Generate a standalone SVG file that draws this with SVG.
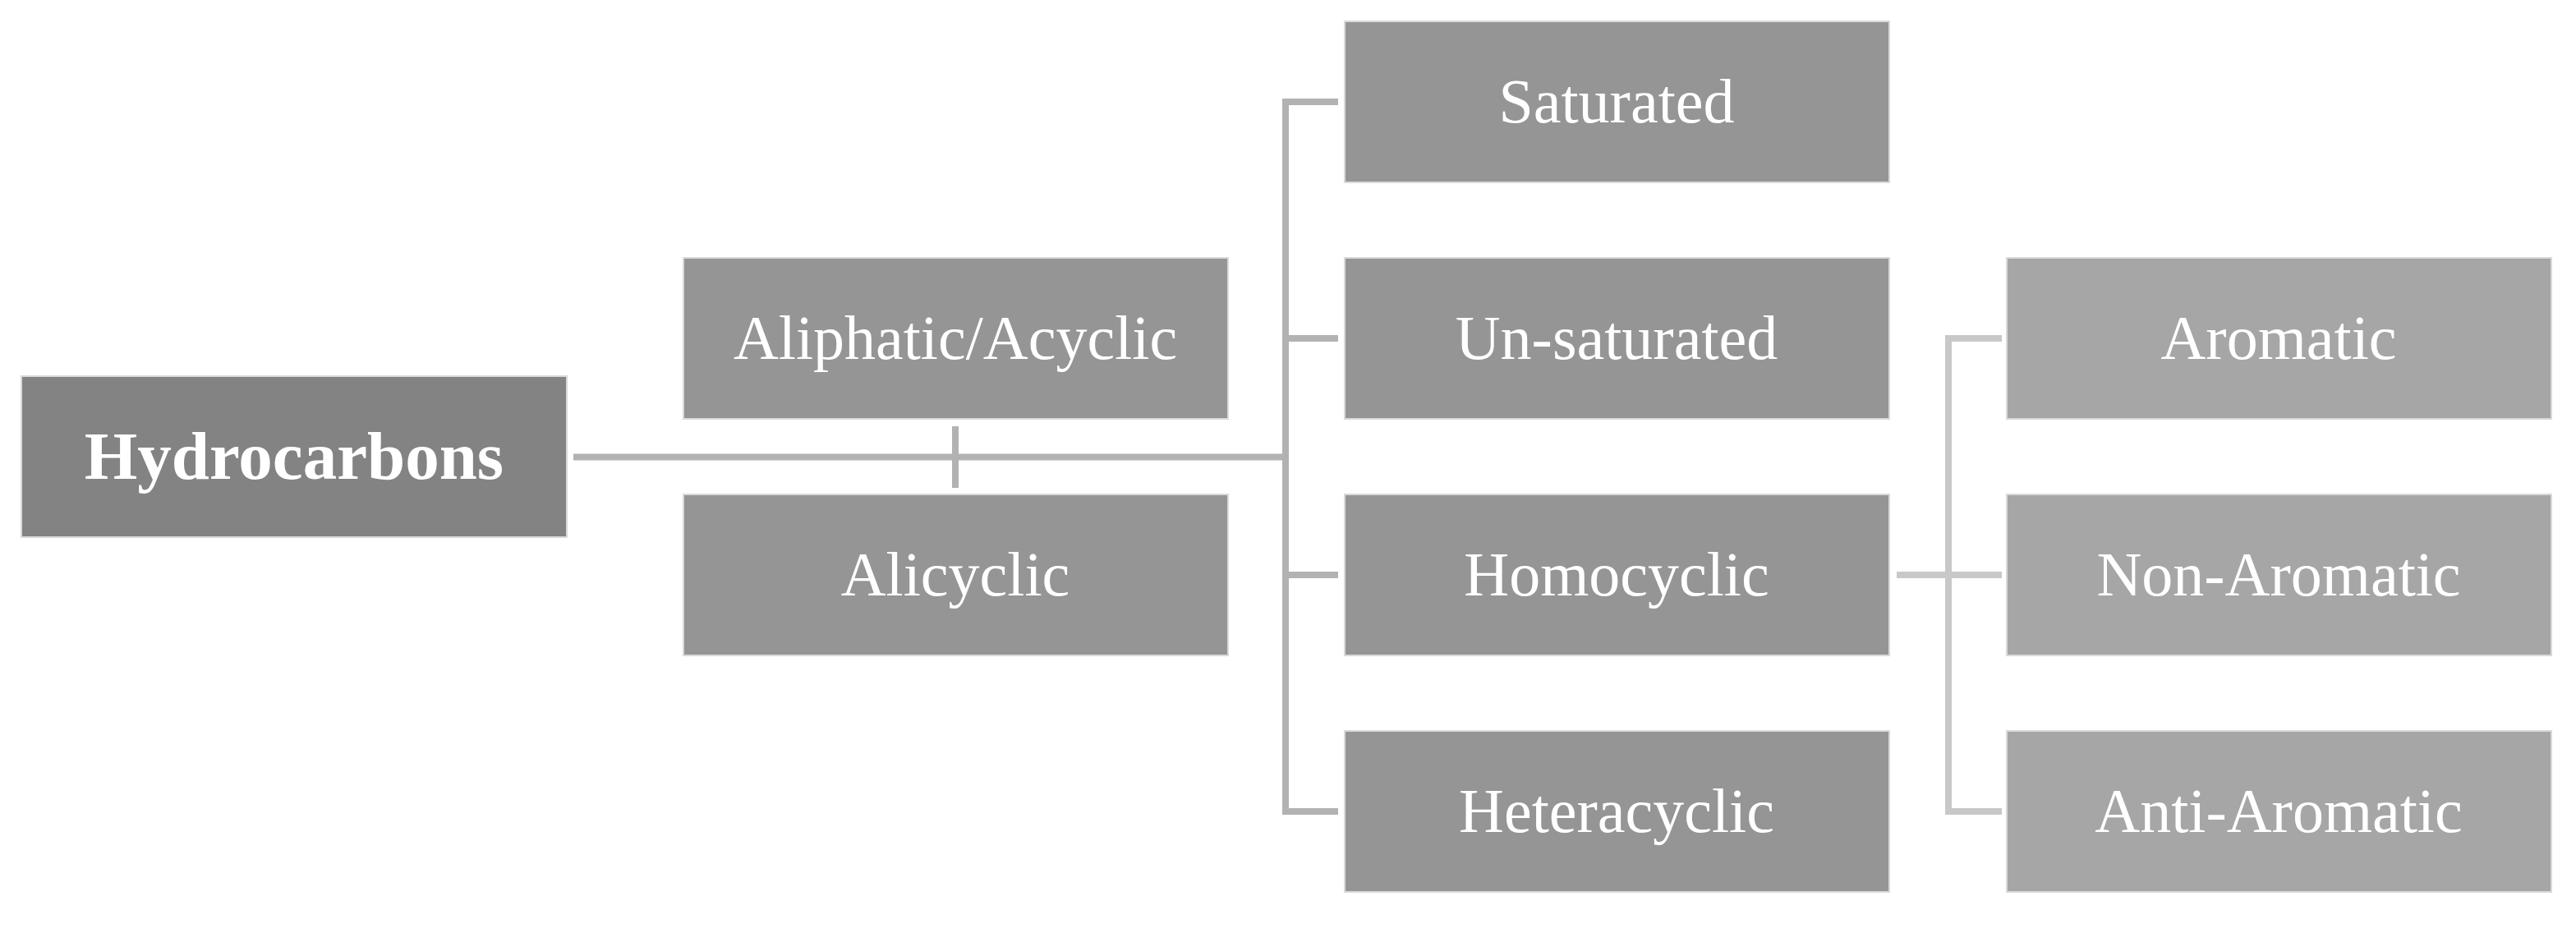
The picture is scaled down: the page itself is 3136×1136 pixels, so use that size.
<svg xmlns="http://www.w3.org/2000/svg" width="3136" height="1136" viewBox="0 0 3136 1136">
<style>
.box{stroke:#d9d9d9;stroke-width:2}
.l1{fill:#838383}
.l2{fill:#959595}
.l3{fill:#a6a6a6}
text{font-family:"Liberation Serif","Times New Roman",serif;fill:#ffffff;text-anchor:middle}
.t{font-size:76px}
.tb{font-size:83px;font-weight:bold}
.c1{stroke:#b2b2b2;stroke-width:8;fill:none;stroke-linejoin:miter}
.c2{stroke:#c8c8c8;stroke-width:8;fill:none;stroke-linejoin:miter}
</style>
<rect width="3136" height="1136" fill="#ffffff"/>
<g id="connectors">
<path class="c1" d="M698 556.5H1565M1163 519V594M1629 124H1565V988H1629M1565 412H1629M1565 700H1629"/>
<path class="c2" d="M2437 412H2372V988H2437M2309 700H2437"/>
</g>
<g id="hydrocarbons"><rect class="box l1" x="26" y="458" width="664" height="196"/><text class="tb" x="358" y="583">Hydrocarbons</text></g>
<g id="aliphatic"><rect class="box l2" x="832" y="314" width="663" height="196"/><text class="t" x="1163" y="437">Aliphatic/Acyclic</text></g>
<g id="alicyclic"><rect class="box l2" x="832" y="602" width="663" height="196"/><text class="t" x="1163" y="725">Alicyclic</text></g>
<g id="saturated"><rect class="box l2" x="1637" y="26" width="663" height="196"/><text class="t" x="1968" y="149">Saturated</text></g>
<g id="unsaturated"><rect class="box l2" x="1637" y="314" width="663" height="196"/><text class="t" x="1968" y="437">Un-saturated</text></g>
<g id="homocyclic"><rect class="box l2" x="1637" y="602" width="663" height="196"/><text class="t" x="1968" y="725">Homocyclic</text></g>
<g id="heteracyclic"><rect class="box l2" x="1637" y="890" width="663" height="196"/><text class="t" x="1968" y="1013">Heteracyclic</text></g>
<g id="aromatic"><rect class="box l3" x="2443" y="314" width="663" height="196"/><text class="t" x="2774" y="437">Aromatic</text></g>
<g id="nonaromatic"><rect class="box l3" x="2443" y="602" width="663" height="196"/><text class="t" x="2774" y="725">Non-Aromatic</text></g>
<g id="antiaromatic"><rect class="box l3" x="2443" y="890" width="663" height="196"/><text class="t" x="2774" y="1013">Anti-Aromatic</text></g>
</svg>
